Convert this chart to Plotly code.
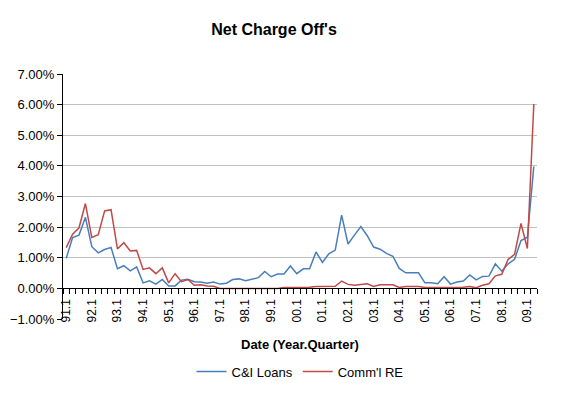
import plotly.graph_objects as go

quarters = [
    "91.1", "91.2", "91.3", "91.4", "92.1", "92.2", "92.3", "92.4",
    "93.1", "93.2", "93.3", "93.4", "94.1", "94.2", "94.3", "94.4",
    "95.1", "95.2", "95.3", "95.4", "96.1", "96.2", "96.3", "96.4",
    "97.1", "97.2", "97.3", "97.4", "98.1", "98.2", "98.3", "98.4",
    "99.1", "99.2", "99.3", "99.4", "00.1", "00.2", "00.3", "00.4",
    "01.1", "01.2", "01.3", "01.4", "02.1", "02.2", "02.3", "02.4",
    "03.1", "03.2", "03.3", "03.4", "04.1", "04.2", "04.3", "04.4",
    "05.1", "05.2", "05.3", "05.4", "06.1", "06.2", "06.3", "06.4",
    "07.1", "07.2", "07.3", "07.4", "08.1", "08.2", "08.3", "08.4",
    "09.1", "09.2",
]

ci_loans = [
    0.98, 1.66, 1.74, 2.32, 1.36, 1.16, 1.27, 1.34,
    0.64, 0.74, 0.57, 0.70, 0.18, 0.25, 0.14, 0.29,
    0.08, 0.08, 0.27, 0.30, 0.22, 0.21, 0.17, 0.21,
    0.14, 0.17, 0.29, 0.31, 0.25, 0.29, 0.35, 0.55,
    0.38, 0.47, 0.47, 0.73, 0.48, 0.64, 0.64, 1.19,
    0.85, 1.13, 1.25, 2.39, 1.45, 1.74, 2.02, 1.72,
    1.35, 1.28, 1.14, 1.05, 0.65, 0.51, 0.51, 0.51,
    0.18, 0.18, 0.15, 0.38, 0.14, 0.21, 0.24, 0.44,
    0.28, 0.39, 0.40, 0.80, 0.56, 0.80, 0.95, 1.56,
    1.67, 3.98,
]

comml_re = [
    1.33, 1.77, 1.98, 2.77, 1.66, 1.75, 2.53, 2.57,
    1.29, 1.49, 1.22, 1.24, 0.62, 0.67, 0.48, 0.67,
    0.18, 0.48, 0.22, 0.29, 0.10, 0.12, 0.08, 0.07,
    0.00, 0.00, 0.00, 0.02, 0.00, 0.00, 0.02, 0.00,
    0.00, 0.00, 0.03, 0.03, 0.03, 0.03, 0.04, 0.06,
    0.06, 0.06, 0.07, 0.24, 0.13, 0.10, 0.12, 0.15,
    0.06, 0.12, 0.12, 0.12, 0.03, 0.06, 0.06, 0.06,
    0.03, 0.03, 0.03, 0.03, 0.04, 0.04, 0.04, 0.06,
    0.02, 0.10, 0.15, 0.41, 0.46, 0.95, 1.11, 2.12,
    1.30, 6.02,
]

FONT = "Liberation Sans, Arial, sans-serif"

fig = go.Figure()
fig.add_trace(go.Scatter(x=quarters, y=ci_loans, mode="lines", name="C&I Loans",
                         line=dict(color="#4A7EBB", width=1.5)))
fig.add_trace(go.Scatter(x=quarters, y=comml_re, mode="lines", name="Comm'l RE",
                         line=dict(color="#BE4B48", width=1.5)))

fig.update_layout(
    width=561, height=394,
    margin=dict(l=63, r=24, t=74, b=75, autoexpand=False),
    paper_bgcolor="white", plot_bgcolor="white",
    font=dict(family=FONT, color="#000000", size=13),
    title=dict(text="Net Charge Off's", x=274 / 561, xref="container", xanchor="center",
               y=1 - 29.5 / 394, yref="container", yanchor="middle",
               font=dict(size=16, weight="bold", family=FONT, color="#000000")),
    showlegend=True,
    legend=dict(orientation="h", x=0.5, xanchor="center", y=-0.215, yanchor="middle",
                font=dict(size=13, family=FONT), bgcolor="rgba(0,0,0,0)",
                itemwidth=30, tracegroupgap=0),
    xaxis=dict(
        type="category", range=[-0.5, len(quarters) - 0.5],
        anchor="free", position=0.125, automargin=False,
        showline=True, linecolor="#000000", linewidth=1,
        ticks="outside", ticklen=5, tickcolor="#000000", tickwidth=1,
        tickson="boundaries", tickmode="linear", tick0=0, dtick=1, ticklabelstep=4,
        tickangle=-90, tickfont=dict(size=12, family=FONT), ticklabelstandoff=5,
        showgrid=False, zeroline=False,
    ),
    yaxis=dict(
        range=[-1, 7], dtick=1, tick0=0, tickformat=".2f", ticksuffix="%",
        automargin=False,
        showline=True, linecolor="#000000", linewidth=1,
        ticks="outside", ticklen=5, tickcolor="#000000",
        showgrid=True, gridcolor="#C0C0C0", gridwidth=1,
        zeroline=False, tickfont=dict(size=13, family=FONT),
    ),
    annotations=[dict(text="<b>Date (Year.Quarter)</b>", x=0.5, xref="paper",
                      y=(319 - 344) / 245, yref="paper", xanchor="center", yanchor="middle",
                      showarrow=False, font=dict(size=13, family=FONT))],
)

fig.write_html("out.html", config={"displayModeBar": False},
               post_script="document.body.style.margin='0px';")
